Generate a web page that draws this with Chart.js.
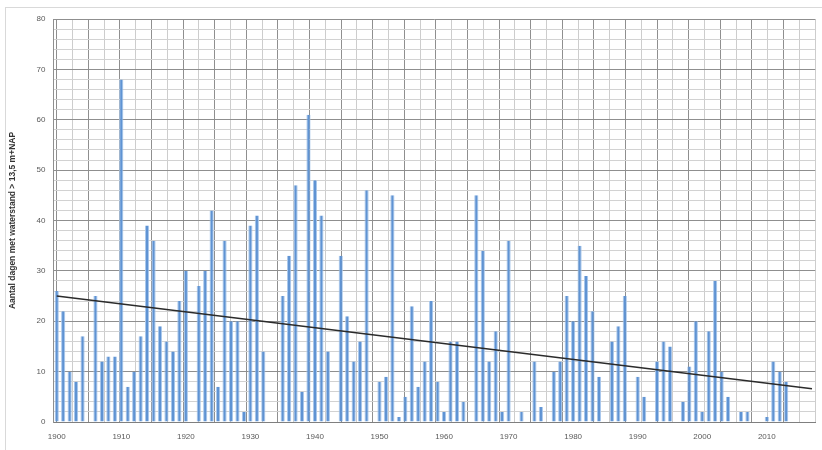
<!DOCTYPE html>
<html>
<head>
<meta charset="utf-8">
<script src="https://cdn.jsdelivr.net/npm/chart.js@4/dist/chart.umd.min.js"></script>
<style>
  body { margin: 0; background: #fff; }
  #wrap { position: relative; width: 822px; height: 450px; overflow: hidden; }
  #frame { position: absolute; left: 5px; top: 7px; width: 900px; height: 500px; border: 1px solid #d9d9d9; }
  canvas { position: absolute; left: 0; top: 0; }
</style>
</head>
<body>
<div id="wrap">
  <div id="frame"></div>
  <canvas id="myChart" width="822" height="450"></canvas>
</div>
<script>
// jaren op de categorie-as
const firstYear = 1900;
const lastYear = 2017;

// aantal dagen per jaar, per decennium
const days1900s = [26, 22, 10, 8, 17, 0, 25, 12, 13, 13];
const days1910s = [68, 7, 10, 17, 39, 36, 19, 16, 14, 24];
const days1920s = [30, 0, 27, 30, 42, 7, 36, 20, 20, 2];
const days1930s = [39, 41, 14, 0, 0, 25, 33, 47, 6, 61];
const days1940s = [48, 41, 14, 0, 33, 21, 12, 16, 46, 0];
const days1950s = [8, 9, 45, 1, 5, 23, 7, 12, 24, 8];
const days1960s = [2, 16, 16, 4, 0, 45, 34, 12, 18, 2];
const days1970s = [36, 0, 2, 0, 12, 3, 0, 10, 12, 25];
const days1980s = [20, 35, 29, 22, 9, 0, 16, 19, 25, 0];
const days1990s = [9, 5, 0, 12, 16, 15, 0, 4, 11, 20];
const days2000s = [2, 18, 28, 10, 5, 0, 2, 2, 0, 0];
const days2010s = [1, 12, 10, 8, 0, 0, 0, 0];

const trendYears = ['1900', '2017'];
const trendValues = [25.0, 6.6];

const yTitle = 'Aantal dagen met waterstand > 13,5 m+NAP';

const years = [];
for (let y = firstYear; y <= lastYear; y++) {
    years.push(String(y));
}

const days = [].concat(days1900s, days1910s, days1920s, days1930s, days1940s,
    days1950s, days1960s, days1970s, days1980s, days1990s, days2000s, days2010s);

const ctx = document.getElementById('myChart').getContext('2d');

const tickFont = { family: 'Liberation Sans, Arial, sans-serif', size: 8 };

new Chart(ctx, {
    type: 'bar',
    data: {
        labels: years,
        datasets: [{
            type: 'line',
            data: trendYears.map((y, i) => ({ x: y, y: trendValues[i] })),
            borderColor: '#2b2b2b',
            borderWidth: 1.5,
            pointRadius: 0,
            fill: false,
            order: 1
        }, {
            data: days,
            backgroundColor: '#5f93d3',
            borderColor: '#a9c8ec',
            borderWidth: { left: 1, right: 1, top: 0, bottom: 0 },
            borderSkipped: false,
            barPercentage: 0.65,
            categoryPercentage: 1.0,
            order: 2
        }]
    },
    options: {
        responsive: false,
        animation: false,
        layout: { padding: { top: 19, right: 2.5, bottom: 0, left: 0 } },
        plugins: {
            legend: { display: false },
            tooltip: { enabled: false }
        },
        scales: {
            x: {
                type: 'category',
                offset: true,
                grid: { display: false, drawTicks: false },
                border: { display: true, color: '#7f7f7f' },
                ticks: {
                    autoSkip: false,
                    maxRotation: 0,
                    padding: 10,
                    color: '#595959',
                    font: tickFont,
                    callback: function(val, i) {
                        const y = Number(years[i]);
                        return y % 10 === 0 ? String(y) : '';
                    }
                },
                afterFit: function(scale) { scale.height = 28; }
            },
            x2: {
                type: 'linear',
                position: 'bottom',
                min: -0.5,
                max: years.length - 0.5,
                ticks: { display: false, stepSize: 2.5, includeBounds: false },
                border: { display: false },
                grid: {
                    drawTicks: false,
                    color: function(c) {
                        return c.tick && c.tick.value % 5 === 0 ? '#8f8f8f' : '#cdcdcd';
                    }
                },
                afterFit: function(scale) { scale.height = 0; }
            },
            y: {
                min: 0,
                max: 80,
                ticks: {
                    stepSize: 2,
                    autoSkip: false,
                    padding: 8,
                    color: '#595959',
                    font: tickFont,
                    callback: function(v) { return v % 10 === 0 ? v : ''; }
                },
                grid: {
                    drawTicks: false,
                    color: function(c) {
                        return c.tick && c.tick.value % 10 === 0 ? '#8f8f8f' : '#d2d2d2';
                    }
                },
                border: { color: '#8f8f8f' },
                title: {
                    display: true,
                    text: yTitle,
                    color: '#333',
                    font: { family: 'Liberation Sans, Arial, sans-serif', size: 8.5, weight: 'bold' },
                    padding: { top: 8, bottom: 0 }
                },
                afterFit: function(scale) { scale.width = 53.5; }
            }
        }
    }
});
</script>
</body>
</html>
